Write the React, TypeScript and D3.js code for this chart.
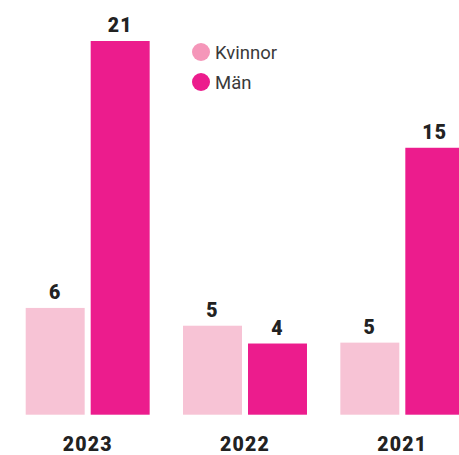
import React from "react";
import * as d3 from "d3";

const categories = ["2023", "2022", "2021"];
const seriesNames = ["Kvinnor", "Män"];
// bar heights as drawn in the reference
const kvinnor = [6, 5, 4.05];
const man = [21, 4, 15];
// value labels as printed in the reference
const kvinnorLabels = ["6", "5", "5"];
const manLabels = ["21", "4", "15"];

const W = 459;
const H = 455;
const barColors = ["#F7C3D5", "#EC1C8D"];
const legendColors = ["#F596B9", "#EC1C8D"];

export default function App() {
  const x0 = d3
    .scaleBand<string>()
    .domain(categories)
    .range([25.7, 464.3])
    .paddingInner(0.212)
    .paddingOuter(0);
  const x1 = d3
    .scaleBand<string>()
    .domain(seriesNames)
    .range([0, x0.bandwidth()])
    .paddingInner(0.0923);
  const y = d3.scaleLinear().domain([0, 21]).range([414.7, 41]);
  const values = [kvinnor, man];
  const labels = [kvinnorLabels, manLabels];

  return (
    <svg
      width={W}
      height={H}
      style={{ position: "absolute", left: 0, top: 0, display: "block" }}
    >
      <rect width={W} height={H} fill="#fff" />
      {categories.map((c, i) => (
        <g key={c} transform={`translate(${x0(c)},0)`}>
          {seriesNames.map((s, j) => {
            const v = values[j][i];
            const bx = x1(s)!;
            return (
              <g key={s}>
                <rect
                  x={bx}
                  y={y(v)}
                  width={x1.bandwidth()}
                  height={y(0) - y(v)}
                  fill={barColors[j]}
                />
                <text
                  x={bx + x1.bandwidth() / 2}
                  y={y(v) - 9}
                  textAnchor="middle"
                  fontFamily="Roboto, sans-serif"
                  fontWeight={900}
                  fontSize={19.5}
                  letterSpacing={1.2}
                  fill="#222"
                >
                  {labels[j][i]}
                </text>
              </g>
            );
          })}
          <text
            x={x0.bandwidth() / 2}
            y={451}
            textAnchor="middle"
            fontFamily="Roboto, sans-serif"
            fontWeight={900}
            fontSize={19.5}
            letterSpacing={1.2}
            fill="#222"
          >
            {c}
          </text>
        </g>
      ))}
      {seriesNames.map((s, j) => (
        <g key={s} transform={`translate(201,${52 + j * 30})`}>
          <circle r={9} fill={legendColors[j]} />
          <text
            x={14}
            y={7}
            fontFamily="Roboto, sans-serif"
            fontSize={18.5}
            fill="#3a3a3a"
          >
            {s}
          </text>
        </g>
      ))}
    </svg>
  );
}
